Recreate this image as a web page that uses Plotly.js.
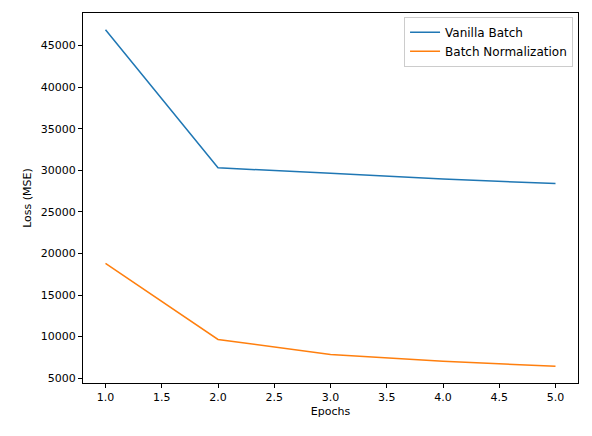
<!DOCTYPE html>
<html><head><script src="https://cdn.plot.ly/plotly-3.0.1.min.js"></script>
<style>body{margin:0}</style></head>
<body><div id="plot" style="width:592px;height:436px"></div>
<script>
var epochs=[1,2,3,4,5]
var vanilla=[46900,30300,29650,28950,28400]
var batchNorm=[18800,9660,7860,7020,6440]
var xTicks=[1,1.5,2,2.5,3,3.5,4,4.5,5]
var yTicks=[5000,10000,15000,20000,25000,30000,35000,40000,45000]

var data=[
  {x:epochs,y:vanilla,mode:'lines',type:'scatter',name:'Vanilla Batch',line:{color:'#1f77b4',width:1.5}},
  {x:epochs,y:batchNorm,mode:'lines',type:'scatter',name:'Batch Normalization',line:{color:'#ff7f0e',width:1.5}}
]
var ax={showline:true,mirror:true,linecolor:'black',linewidth:1,ticks:'outside',ticklen:4,tickcolor:'black',showgrid:false,zeroline:false,tickfont:{size:11,color:'black'}}
var layout={
  width:592,height:436,margin:{l:83,r:14,t:13,b:53},
  font:{family:'DejaVu Sans',size:11,color:'black'},
  paper_bgcolor:'white',plot_bgcolor:'white',
  xaxis:Object.assign({},ax,{range:[0.8,5.2],tickvals:xTicks,ticktext:xTicks.map(function(v){return v.toFixed(1)}),title:{text:'Epochs',standoff:4,font:{size:11}}}),
  yaxis:Object.assign({},ax,{range:[4417,48923],tickvals:yTicks,ticktext:yTicks.map(String),title:{text:'Loss (MSE)',standoff:6,font:{size:11}}}),
  legend:{x:0.99,y:0.99,xanchor:'right',yanchor:'top',bordercolor:'#ccc',borderwidth:1,bgcolor:'white',font:{size:12},itemwidth:30,tracegroupgap:0},
  showlegend:true
}
Plotly.newPlot('plot',data,layout,{displayModeBar:false})
</script></body></html>
